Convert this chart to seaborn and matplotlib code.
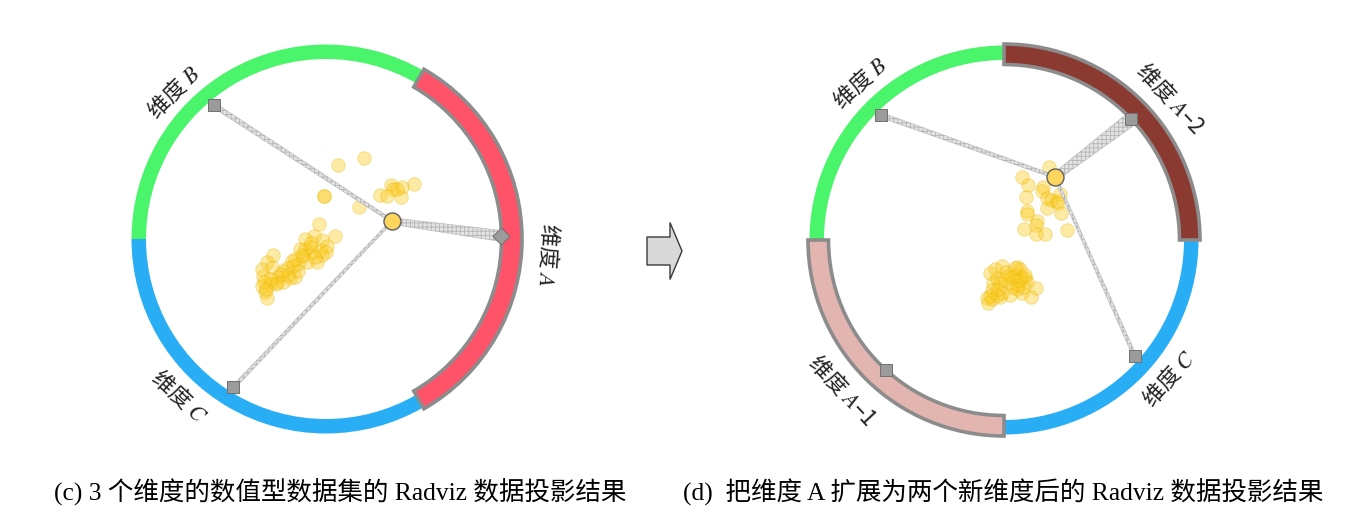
import numpy as np
import seaborn as sns
import matplotlib.pyplot as plt
from matplotlib.patches import Wedge, Polygon, FancyArrow

sns.set_theme(style='white')
plt.rcParams['font.family'] = ['Liberation Serif', 'Noto Sans CJK SC']
plt.rcParams['mathtext.fontset'] = 'stix'
plt.rcParams['hatch.linewidth'] = 0.6
plt.rcParams['hatch.color'] = '#9a9a9a'

# ---------- (c) 3 个维度 ----------
c_labels = ['维度 $\\mathit{A}$', '维度 $\\mathit{B}$', '维度 $\\mathit{C}$']
c_arc_start = [-60, 60, 180]
c_arc_end = [60, 180, 300]
c_colors = ['#FF536A', '#4AF46B', '#29AEF5']
c_selected = [True, False, False]
c_anchor = [1, 130, 238]
c_weights = [1.0, 0.3, 0.15]
c_point = (0.353, 0.096)
c_x = [0.066, 0.203, 0.346, 0.360, 0.405, 0.471, 0.289, 0.325, 0.399, -0.009, -0.009,
       0.178, -0.036, -0.063, 0.048, 0.004, -0.112, -0.086, -0.139, -0.282, -0.121,
       -0.023, -0.050, -0.166, -0.148, -0.175, -0.210, -0.228, -0.103, -0.317, -0.344,
       -0.290, -0.335, -0.255, -0.193, -0.299, -0.264, -0.344, -0.326, -0.317, -0.228,
       -0.166, -0.112, -0.076, 0.380, -0.270, -0.030, -0.060, -0.130, -0.180, -0.240,
       -0.300, -0.330, -0.020, -0.080, 0.000, -0.150, -0.205, -0.320]
c_y = [0.396, 0.432, 0.289, 0.267, 0.276, 0.296, 0.235, 0.232, 0.225, 0.228, 0.232,
       0.171, 0.079, 0.014, 0.016, -0.036, 0.000, -0.044, -0.053, -0.086, -0.089,
       -0.086, -0.125, -0.107, -0.134, -0.146, -0.157, -0.170, -0.125, -0.125, -0.160,
       -0.151, -0.196, -0.205, -0.210, -0.241, -0.232, -0.250, -0.285, -0.317, -0.232,
       -0.205, -0.053, -0.071, 0.270, -0.240, -0.060, -0.095, -0.085, -0.120, -0.185,
       -0.215, -0.230, -0.005, -0.020, -0.070, -0.170, -0.195, -0.265]

# ---------- (d) 维度 A 拆成 A-1 / A-2 ----------
d_labels = ['维度 $\\mathit{A}$–2', '维度 $\\mathit{B}$', '维度 $\\mathit{A}$–1', '维度 $\\mathit{C}$']
d_arc_start = [0, 90, 180, 270]
d_arc_end = [90, 180, 270, 360]
d_colors = ['#8B3A32', '#4AF46B', '#E2B5B1', '#29AEF5']
d_selected = [True, False, True, False]
d_anchor = [43.6, 134.5, 227.8, 318.4]
d_weights = [1.3, 0.3, 0.0, 0.15]
d_point = (0.273, 0.337)
d_x = [0.242, 0.098, 0.130, 0.207, 0.202, 0.299, 0.118, 0.232, 0.250, 0.282, 0.290,
       0.228, 0.303, 0.121, 0.121, 0.175, 0.170, 0.109, 0.339, 0.171, 0.219,
       -0.009, -0.048, 0.068, 0.059, 0.086, 0.023, -0.039, -0.075, 0.112, 0.121, 0.076,
       0.050, 0.032, -0.021, -0.057, -0.066, -0.012, 0.032, 0.095, 0.171, 0.143, -0.093,
       -0.066, -0.084, -0.039, -0.021, 0.068, 0.090, 0.100, 0.010, 0.045, -0.030, 0.080,
       0.110, -0.075, 0.060, 0.000]
d_y = [0.389, 0.339, 0.296, 0.282, 0.264, 0.246, 0.228, 0.223, 0.214, 0.210, 0.196,
       0.170, 0.146, 0.155, 0.137, 0.102, 0.080, 0.059, 0.053, 0.032, 0.030,
       -0.139, -0.155, -0.143, -0.187, -0.157, -0.193, -0.205, -0.175, -0.205, -0.223, -0.241,
       -0.250, -0.232, -0.232, -0.228, -0.267, -0.285, -0.294, -0.282, -0.255, -0.303, -0.312,
       -0.317, -0.335, -0.294, -0.306, -0.264, -0.200, -0.250, -0.170, -0.200, -0.260, -0.215,
       -0.185, -0.300, -0.150, -0.215]

# 布局（像素）
PX = 187.0          # 圆环中心线半径对应的像素
W, H = 1359, 530
c_center = (326, 239)
d_center = (1004, 240)
c_label_pos = [(-4, 1.19, -94), (136, 1.13, 45), (227, 1.15, -43)]
d_label_pos = [(40.5, 1.17, -47), (132.5, 1.14, 42.5), (223, 1.18, -47), (-40, 1.15, 48)]


def radviz(center, labels, starts, ends, colors, selected, anchors, weights,
           point, xs, ys, label_pos):
    half = 240
    ax = fig.add_axes([(center[0] - half) / W, (H - center[1] - half) / H,
                       2 * half / W, 2 * half / H])
    lim = half / PX
    ax.set_xlim(-lim, lim)
    ax.set_ylim(-lim, lim)
    ax.set_aspect('equal')
    ax.axis('off')

    order = sorted(range(len(starts)), key=lambda i: selected[i])
    for i in order:
        if selected[i]:
            ax.add_patch(Wedge((0, 0), 196 / PX, starts[i], ends[i], width=20.5 / PX,
                               facecolor=colors[i], edgecolor='#8c8c8c', lw=2.6, zorder=2))
        else:
            ax.add_patch(Wedge((0, 0), 194.5 / PX, starts[i], ends[i], width=14.5 / PX,
                               facecolor=colors[i], lw=0, zorder=1))

    sns.scatterplot(x=xs, y=ys, ax=ax, s=95, color='#FBCB1E', alpha=0.4,
                    edgecolor='#E8B400', linewidth=0.6, zorder=3)

    r_a = 175 / PX
    px, py = point
    for ang, w in zip(anchors, weights):
        if w <= 0:
            continue
        t = np.radians(ang)
        qx, qy = r_a * np.cos(t), r_a * np.sin(t)
        d = np.array([qx - px, qy - py])
        n = np.array([-d[1], d[0]]) / np.hypot(*d)
        w0 = (2.0 + 4.5 * w) / PX / 2
        w1 = (2.5 + 8.5 * w) / PX / 2
        poly = [(px + n[0] * w0, py + n[1] * w0), (qx + n[0] * w1, qy + n[1] * w1),
                (qx - n[0] * w1, qy - n[1] * w1), (px - n[0] * w0, py - n[1] * w0)]
        ax.add_patch(Polygon(poly, closed=True, facecolor='#e3e3e3', edgecolor='#b5b5b5',
                             hatch='++++', lw=0.4, zorder=4))

    for k, (ang, w) in enumerate(zip(anchors, weights)):
        t = np.radians(ang)
        mk = 'D' if (w >= 1.0 and len(anchors) == 3) else 's'
        ax.scatter(r_a * np.cos(t), r_a * np.sin(t), marker=mk, s=65 if mk == 's' else 75,
                   color='#9b9b9b', edgecolor='#707070', linewidth=0.7, zorder=6)

    ax.scatter([px], [py], s=150, color='#FDD45C', edgecolor='#5f5f5f', linewidth=1.0, zorder=7)

    for lab, (ang, r, rot) in zip(labels, label_pos):
        t = np.radians(ang)
        ax.text(r * np.cos(t), r * np.sin(t), lab, rotation=rot, rotation_mode='anchor',
                ha='center', va='center', fontsize=16, family='Noto Sans CJK SC',
                color='#222222')
    return ax


fig = plt.figure(figsize=(W / 100, H / 100), dpi=100)
fig.patch.set_facecolor('white')

radviz(c_center, c_labels, c_arc_start, c_arc_end, c_colors, c_selected, c_anchor,
       c_weights, c_point, c_x, c_y, c_label_pos)
radviz(d_center, d_labels, d_arc_start, d_arc_end, d_colors, d_selected, d_anchor,
       d_weights, d_point, d_x, d_y, d_label_pos)

oax = fig.add_axes([0, 0, 1, 1])
oax.set_xlim(0, W)
oax.set_ylim(H, 0)
oax.axis('off')
oax.patch.set_alpha(0)
oax.add_patch(FancyArrow(647, 251, 35, 0, width=28, head_width=57, head_length=12,
                         length_includes_head=True, facecolor='#d9d9d9',
                         edgecolor='#3a3a3a', lw=1))
oax.text(340, 492, '(c) 3 个维度的数值型数据集的 Radviz 数据投影结果', ha='center', va='center',
         fontsize=18.4, color='black')
oax.text(1003, 492, '(d)  把维度 A 扩展为两个新维度后的 Radviz 数据投影结果', ha='center',
         va='center', fontsize=18.4, color='black')

fig.savefig('out.png', dpi=100, facecolor='white')
